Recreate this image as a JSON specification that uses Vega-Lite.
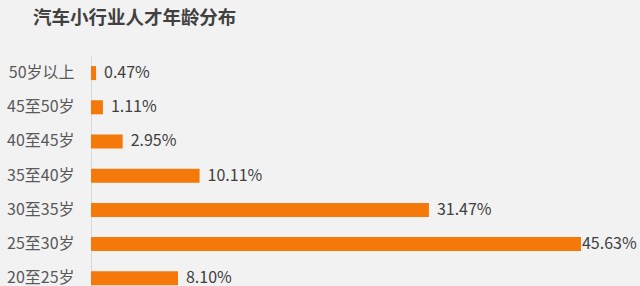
{
  "$schema": "https://vega.github.io/schema/vega-lite/v6.json",
  "autosize": "none",
  "width": 490,
  "height": 239.4,
  "padding": {"left": 91, "top": 56, "right": 59, "bottom": 0},
  "background": "#f2f2f2",
  "title": {
    "text": "汽车小行业人才年龄分布",
    "anchor": "start",
    "frame": "group",
    "font": "Noto Sans CJK SC",
    "fontSize": 18.5,
    "fontWeight": "bold",
    "color": "#404040",
    "dx": -58,
    "offset": 28
  },
  "config": {"view": {"stroke": null}},
  "data": {
    "values": [
      {"age": "50岁以上", "pct": 0.47, "label": "0.47%"},
      {"age": "45至50岁", "pct": 1.11, "label": "1.11%"},
      {"age": "40至45岁", "pct": 2.95, "label": "2.95%"},
      {"age": "35至40岁", "pct": 10.11, "label": "10.11%"},
      {"age": "30至35岁", "pct": 31.47, "label": "31.47%"},
      {"age": "25至30岁", "pct": 45.63, "label": "45.63%"},
      {"age": "20至25岁", "pct": 8.10, "label": "8.10%"}
    ]
  },
  "encoding": {
    "y": {
      "field": "age",
      "type": "nominal",
      "sort": null,
      "scale": {"paddingInner": 0.59, "paddingOuter": 0.295},
      "axis": {
        "title": null,
        "ticks": false,
        "grid": false,
        "domain": true,
        "domainColor": "#d9d9d9",
        "domainWidth": 1,
        "labelPadding": 17,
        "labelFont": "Noto Sans CJK SC",
        "labelFontSize": 16,
        "labelColor": "#595959"
      }
    },
    "x": {
      "field": "pct",
      "type": "quantitative",
      "scale": {"domain": [0, 45.63], "nice": false, "zero": true},
      "axis": null
    }
  },
  "layer": [
    {"mark": {"type": "bar", "color": "#f5780a"}},
    {
      "transform": [{"filter": "datum.pct < 45"}],
      "mark": {"type": "text", "align": "left", "dx": 8, "font": "Noto Sans CJK SC", "fontSize": 16, "color": "#404040"},
      "encoding": {"text": {"field": "label"}}
    },
    {
      "transform": [{"filter": "datum.pct >= 45"}],
      "mark": {"type": "text", "align": "left", "dx": 1, "font": "Noto Sans CJK SC", "fontSize": 16, "color": "#404040"},
      "encoding": {"text": {"field": "label"}}
    }
  ]
}
